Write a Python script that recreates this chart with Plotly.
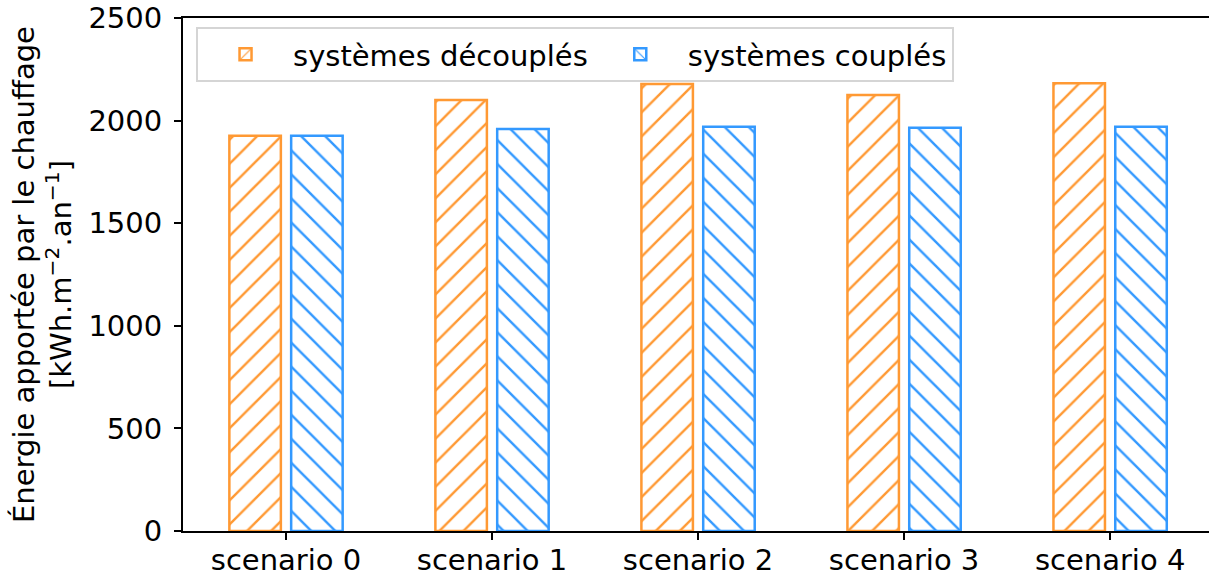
import plotly.graph_objects as go

# ---- data ----
categories = ["scenario 0", "scenario 1", "scenario 2", "scenario 3", "scenario 4"]
series_names = ["systèmes découplés", "systèmes couplés"]
decouples = [1926, 2100, 2178, 2125, 2182]
couples = [1926, 1959, 1970, 1965, 1970]
y_ticks = [0, 500, 1000, 1500, 2000, 2500]

# ---- style ----
ORANGE = "rgb(255,153,51)"
BLUE = "rgb(51,153,255)"
FONT = "DejaVu Sans"
FS = 29
x_pos = list(range(len(categories)))


def bar(y, name, color, shape, offset):
    return go.Bar(
        x=x_pos, y=y, name=name, width=0.25, offset=offset,
        marker=dict(
            color="white",
            line=dict(color=color, width=2.5),
            pattern=dict(shape=shape, fgcolor=color, bgcolor="white",
                         size=17, solidity=0.14, fillmode="replace"),
        ),
    )


fig = go.Figure()
fig.add_trace(bar(decouples, series_names[0], ORANGE, "/", -0.275))
fig.add_trace(bar(couples, series_names[1], BLUE, "\\", 0.025))

fig.update_layout(
    width=1209, height=581,
    margin=dict(l=183, r=0, t=18, b=50, autoexpand=False),
    plot_bgcolor="white", paper_bgcolor="white",
    font=dict(family=FONT, size=FS, color="black"),
    barmode="group",
    showlegend=True,
    legend=dict(
        orientation="h", x=0.0127, y=0.9825, xanchor="left", yanchor="top",
        bgcolor="white", bordercolor="#d5d5d5", borderwidth=2,
        itemwidth=85,
        font=dict(family=FONT, size=FS, color="black"),
    ),
)
fig.update_xaxes(
    range=[-0.5, 4.48], tickvals=x_pos, ticktext=categories,
    showline=True, linecolor="black", linewidth=2, mirror=True,
    ticks="outside", ticklen=7, tickwidth=1.5, tickcolor="black",
    ticklabelstandoff=-5, ticklabeloverflow="allow", automargin=False,
    tickfont=dict(family=FONT, size=FS), showgrid=False, zeroline=False,
)
fig.update_yaxes(
    range=[0, 2500], tickvals=y_ticks,
    showline=True, linecolor="black", linewidth=2, mirror=False,
    ticks="outside", ticklen=7, tickwidth=1.5, tickcolor="black",
    ticklabelstandoff=6, ticklabeloverflow="allow", automargin=False,
    tickfont=dict(family=FONT, size=FS), showgrid=False, zeroline=False,
    title=dict(text="Énergie apportée par le chauffage<br>[kWh.m<sup>−2</sup>.an<sup>−1</sup>]",
               font=dict(family=FONT, size=FS), standoff=8),
)

fig.write_html(
    "out.html",
    config={"displayModeBar": False},
    post_script="document.body.style.margin='0';document.body.style.overflow='hidden';",
)
